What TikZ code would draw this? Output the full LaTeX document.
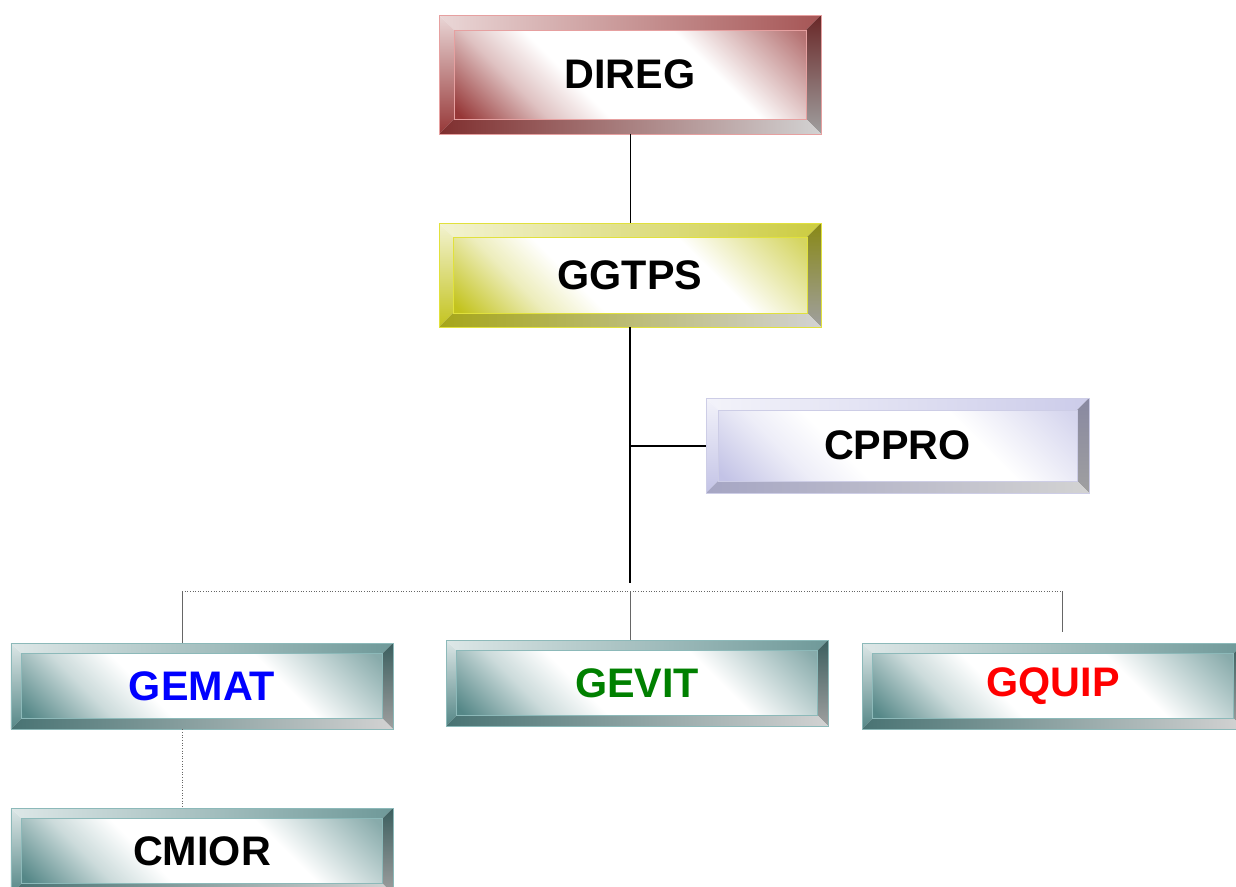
\documentclass[tikz,border=0pt]{standalone}
\usepackage{fontspec}
\setmainfont{Liberation Sans}
\usetikzlibrary{positioning,calc}
\definecolor{diregred}{RGB}{150,55,55}
\definecolor{diregline}{RGB}{230,160,160}
\definecolor{ggtpsyel}{RGB}{195,195,30}
\definecolor{ggtpsline}{RGB}{225,225,60}
\definecolor{cpprolav}{RGB}{195,195,230}
\definecolor{cpproline}{RGB}{205,205,230}
\definecolor{tealbox}{RGB}{85,135,135}
\definecolor{tealline}{RGB}{140,185,185}
\colorlet{bevcol}{gray}
\pgfdeclarehorizontalshading[bevcol]{bevface}{100bp}{color(0bp)=(bevcol); color(16bp)=(bevcol);
  color(30bp)=(bevcol!30!white); color(40bp)=(white); color(64bp)=(white);
  color(84bp)=(bevcol!70!white); color(100bp)=(bevcol!80!white)}
\def\bevd{0.28cm}
\tikzset{
  bevel/.code={\def\bevd{#1}},
  bevelbox/.style n args={2}{draw=#2, line width=0.5pt, minimum width=7.64cm, inner sep=0pt,
    font=\fontsize{23.5}{28}\selectfont\bfseries,
    path picture={
      \path (path picture bounding box.north west) coordinate (p1)
            (path picture bounding box.north east) coordinate (p2)
            (path picture bounding box.south east) coordinate (p3)
            (path picture bounding box.south west) coordinate (p4);
      \path (p1) ++(\bevd,-\bevd) coordinate (q1)
            (p2) ++(-\bevd,-\bevd) coordinate (q2)
            (p3) ++(-\bevd,\bevd) coordinate (q3)
            (p4) ++(\bevd,\bevd) coordinate (q4);
      \shade[left color=#1!20, right color=#1!85] (p1) -- (p2) -- (q2) -- (q1) -- cycle;
      \shade[top color=#1!20, bottom color=#1] (p1) -- (q1) -- (q4) -- (p4) -- cycle;
      \shade[top color=#1!70!black, bottom color=gray!75] (p2) -- (p3) -- (q3) -- (q2) -- cycle;
      \shade[left color=#1!85!black, right color=gray!35] (p4) -- (q4) -- (q3) -- (p3) -- cycle;
      \colorlet{bevcol}{#1}
      \shade[shading=bevface, shading angle=45] (q1) rectangle (q3);
      \draw[#2, line width=0.4pt] (q1) rectangle (q3);
    }},
  linkline/.style={line width=0.5pt},
  trunkline/.style={line width=1.1pt},
  dotlink/.style={line width=0.5pt, gray!80!black, densely dotted}
}
\begin{document}
\begin{tikzpicture}
  \useasboundingbox (0,0) rectangle (24.72,-17.72);
  % boxes
  \node[bevelbox={diregred}{diregline}, bevel=0.3cm, minimum height=2.38cm] (direg) at (12.6,-1.49) {DIREG};
  \node[bevelbox={ggtpsyel}{ggtpsline}, bevel=0.28cm, minimum height=2.08cm] (ggtps) at (12.6,-5.5) {GGTPS};
  \node[bevelbox={cpprolav}{cpproline}, bevel=0.24cm, minimum width=7.66cm, minimum height=1.9cm] (cppro) at (17.95,-8.91) {CPPRO};
  \node[bevelbox={tealbox}{tealline}, bevel=0.21cm, minimum height=1.72cm, text=blue] (gemat) at (4.04,-13.72) {GEMAT};
  \node[bevelbox={tealbox}{tealline}, bevel=0.21cm, minimum height=1.72cm, text={rgb,255:red,0;green,128;blue,0}] (gevit) at (12.74,-13.66) {GEVIT};
  \node[bevelbox={tealbox}{tealline}, bevel=0.21cm, minimum height=1.72cm, text=red] (gquip) at (21.06,-13.72) {GQUIP};
  \node[bevelbox={tealbox}{tealline}, bevel=0.21cm, minimum height=1.72cm] (cmior) at (4.04,-17.02) {CMIOR};
  % links
  \coordinate (trunk) at (12.6,-11.66);
  \coordinate (branch) at (12.6,-8.92);
  \coordinate (barmid) at (12.6,-11.82);
  \coordinate (barleft) at (3.64,-11.82);
  \coordinate (barright) at (21.24,-11.82);
  \coordinate (gquiptop) at (21.24,-12.64);
  \draw[linkline] (direg) -- (ggtps);
  \draw[trunkline] (ggtps) -- (trunk);
  \draw[trunkline] (branch) -- (branch -| cppro.west);
  \draw[dotlink] (barleft) -- (barright);
  \draw[linkline, gray!80!black] (barleft) -- (barleft |- gemat.north);
  \draw[linkline, gray!80!black] (barmid) -- (barmid |- gevit.north);
  \draw[linkline, gray!80!black] (barright) -- (gquiptop);
  \draw[dotlink] (barleft |- gemat.south) -- (barleft |- cmior.north);
\end{tikzpicture}
\end{document}
